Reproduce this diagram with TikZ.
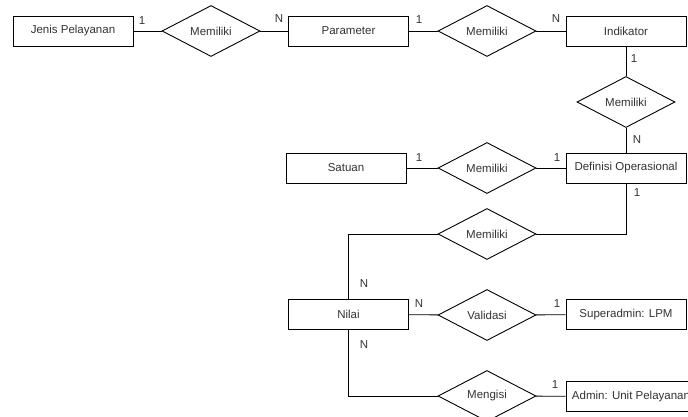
\documentclass[tikz,border=0pt]{standalone}
\usepackage{fontspec}
\setmainfont{Liberation Sans}
\usetikzlibrary{shapes.geometric}
\definecolor{erLine}{RGB}{0,0,0}
\definecolor{erText}{RGB}{51,51,51}
\tikzset{
  entity/.style={draw=erLine, line width=0.9pt, fill=white, text=erText,
                 minimum width=120pt, minimum height=30pt, inner sep=0pt,
                 font=\fontsize{11.5}{13}\selectfont},
  relation/.style={diamond, draw=erLine, line width=0.9pt, fill=white, text=erText,
                   aspect=1.92, minimum width=98pt, minimum height=51pt, inner sep=0pt,
                   font=\fontsize{11.5}{13}\selectfont},
  card/.style={text=erText, inner sep=0pt, font=\fontsize{11.5}{13}\selectfont},
  link/.style={draw=erLine, line width=0.9pt}
}
\begin{document}
\begin{tikzpicture}[x=1pt, y=-1pt]
\clip (0,0) rectangle (688,416);
% entitas
\node[entity] (jenis) at (73,31) {Jenis Pelayanan};
\node[entity] (param) at (348.5,31) {Parameter};
\node[entity] (indik) at (626,31) {Indikator};
\node[entity] (defop) at (626,168) {Definisi Operasional};
\node[entity] (satuan) at (346,168) {Satuan};
\node[entity] (nilai) at (348.5,314.5) {Nilai};
\node[entity] (lpm) at (626,314.5) {Superadmin: LPM};
\node[entity, minimum width=130pt] (admin) at (631,396.5) {Admin: Unit Pelayanan};
% relasi
\node[relation] (relJP) at (211,31) {Memiliki};
\node[relation] (relPI) at (487,31) {Memiliki};
\node[relation] (relID) at (626,102) {Memiliki};
\node[relation] (relSD) at (487,168) {Memiliki};
\node[relation] (relDN) at (487,234) {Memiliki};
\node[relation] (relVal) at (487,315) {Validasi};
\node[relation] (relIsi) at (487,396) {Mengisi};
% garis
\draw[link] (jenis) -- (relJP);
\draw[link] (relJP) -- (param);
\draw[link] (param) -- (relPI);
\draw[link] (relPI) -- (indik);
\draw[link] (indik) -- (relID);
\draw[link] (relID) -- (defop);
\draw[link] (satuan) -- (relSD);
\draw[link] (relSD) -- (defop);
\draw[link] (defop.south) |- (relDN.east);
\draw[link] (relDN.west) -| (nilai.north);
\draw[link] (nilai) -- (relVal);
\draw[link] (relVal) -- (lpm);
\draw[link] (nilai.south) |- (relIsi.west);
\draw[link] (relIsi) -- (admin);
% kardinalitas
\node[card] (c1) at (142,21) {1};
\node[card] (c2) at (279,19) {N};
\node[card] (c3) at (419,20) {1};
\node[card] (c4) at (556,19) {N};
\node[card] (c5) at (634,59) {1};
\node[card] (c6) at (637,140) {N};
\node[card] (c7) at (419,158) {1};
\node[card] (c8) at (557,158) {1};
\node[card] (c9) at (637,193) {1};
\node[card] (c10) at (364,284) {N};
\node[card] (c11) at (419,304) {N};
\node[card] (c12) at (557,304) {1};
\node[card] (c13) at (364,345) {N};
\node[card] (c14) at (555,385) {1};
\end{tikzpicture}
\end{document}
